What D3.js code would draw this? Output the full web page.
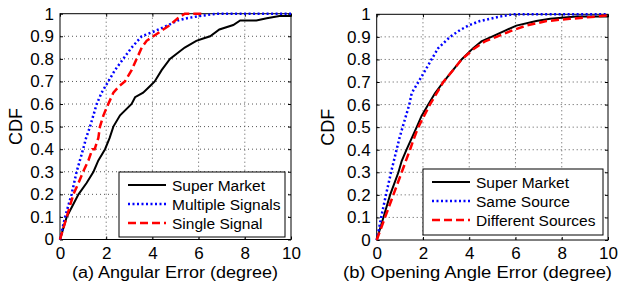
<!DOCTYPE html>
<html>
<head>
<meta charset="utf-8">
<script src="https://cdn.jsdelivr.net/npm/d3@7"></script>
<style>
  body { margin: 0; background: #fff; }
  svg { display: block; }
  text { font-family: "Liberation Sans", Arial, sans-serif; fill: #000; }
</style>
</head>
<body>
<div id="chart"></div>
<script>
// tick labels
const xTicks = [0, 2, 4, 6, 8, 10];
const yTicks = [0, 0.1, 0.2, 0.3, 0.4, 0.5, 0.6, 0.7, 0.8, 0.9, 1];

// (a) Angular Error
const angSuperX = [0, 0.29, 0.8, 1.15, 1.45, 1.66, 1.95, 2.15, 2.31, 2.6, 3.1, 3.25, 3.6, 3.9, 4.1, 4.4, 4.76, 5.4, 5.9, 6.2, 6.5, 6.9, 7.5, 7.8, 8.5, 8.95, 9.5, 10];
const angSuperY = [0, 0.1, 0.2, 0.25, 0.3, 0.35, 0.4, 0.45, 0.5, 0.55, 0.6, 0.63, 0.65, 0.68, 0.7, 0.75, 0.8, 0.85, 0.88, 0.89, 0.9, 0.93, 0.95, 0.97, 0.97, 0.98, 0.99, 0.99];
const angMultiX = [0, 0.22, 0.5, 0.72, 1.0, 1.13, 1.3, 1.59, 1.8, 2.09, 2.38, 2.74, 3.1, 3.54, 4.04, 4.7, 5.1, 5.5, 6.06, 6.8, 10];
const angMultiY = [0, 0.1, 0.2, 0.3, 0.4, 0.45, 0.5, 0.6, 0.65, 0.7, 0.75, 0.8, 0.85, 0.9, 0.92, 0.95, 0.97, 0.98, 0.99, 1, 1];
const angSingleX = [0, 0.29, 0.58, 0.8, 1.0, 1.23, 1.4, 1.5, 1.66, 1.73, 1.88, 2.09, 2.31, 2.57, 2.81, 3.1, 3.32, 3.54, 3.75, 4.04, 4.47, 4.76, 5.1, 5.4, 6.2];
const angSingleY = [0, 0.1, 0.2, 0.25, 0.3, 0.35, 0.4, 0.4, 0.45, 0.5, 0.55, 0.6, 0.65, 0.68, 0.7, 0.75, 0.8, 0.85, 0.88, 0.9, 0.93, 0.95, 0.98, 1, 1];

// (b) Opening Angle Error
const opSuperX = [0, 0.29, 0.58, 0.94, 1.08, 1.29, 1.51, 1.73, 1.94, 2.23, 2.52, 2.88, 3.28, 3.67, 4.17, 4.53, 4.96, 5.6, 6.04, 6.9, 7.5, 8.63, 10];
const opSuperY = [0, 0.1, 0.2, 0.3, 0.35, 0.4, 0.45, 0.5, 0.55, 0.6, 0.65, 0.7, 0.75, 0.8, 0.85, 0.88, 0.9, 0.93, 0.95, 0.97, 0.98, 0.99, 0.99];
const opSameX = [0, 0.1, 0.19, 0.4, 0.62, 0.86, 0.98, 1.12, 1.41, 1.51, 1.8, 2.09, 2.37, 2.66, 3.17, 3.6, 3.96, 4.46, 4.89, 5.32, 5.9, 10];
const opSameY = [0, 0.05, 0.1, 0.2, 0.3, 0.4, 0.45, 0.5, 0.6, 0.65, 0.7, 0.75, 0.8, 0.85, 0.9, 0.93, 0.95, 0.97, 0.98, 0.99, 1, 1];
const opDiffX = [0, 0.36, 0.72, 1.08, 1.44, 1.61, 1.8, 2.3, 2.88, 3.28, 3.67, 4.24, 4.68, 5.18, 5.9, 6.47, 7.34, 8.35, 9.5, 10];
const opDiffY = [0, 0.1, 0.2, 0.3, 0.4, 0.45, 0.5, 0.6, 0.7, 0.75, 0.8, 0.85, 0.88, 0.9, 0.93, 0.95, 0.97, 0.98, 0.99, 0.995];

const styles = {
  black: { color: "#000", width: 2, dash: null },
  blue: { color: "#0000ff", width: 2.5, dash: "2,2.5" },
  red: { color: "#ff0000", width: 2.5, dash: "8,4" }
};

const svg = d3.select("#chart").append("svg")
  .attr("width", 620)
  .attr("height", 286);

function zip(xs, ys) { return xs.map((x, i) => [x, ys[i]]); }

function drawPanel(opt) {
  const x = d3.scaleLinear().domain([0, 10]).range([opt.left, opt.right]);
  const y = d3.scaleLinear().domain([0, 1]).range([opt.bottom, opt.top]);
  const g = svg.append("g");

  // dotted grid
  g.selectAll(".gx").data(xTicks.slice(1, -1)).enter().append("line")
    .attr("x1", d => x(d)).attr("x2", d => x(d))
    .attr("y1", opt.top).attr("y2", opt.bottom)
    .attr("stroke", "#555").attr("stroke-width", 1).attr("stroke-dasharray", "1,3");
  g.selectAll(".gy").data(yTicks.slice(1, -1)).enter().append("line")
    .attr("y1", d => y(d)).attr("y2", d => y(d))
    .attr("x1", opt.left).attr("x2", opt.right)
    .attr("stroke", "#555").attr("stroke-width", 1).attr("stroke-dasharray", "1,3");

  // axes (inner ticks like matlab)
  const ax = g.append("g").attr("transform", `translate(0,${opt.bottom})`)
    .call(d3.axisBottom(x).tickValues(xTicks).tickSizeInner(-3).tickSizeOuter(0).tickPadding(7));
  const axT = g.append("g").attr("transform", `translate(0,${opt.top})`)
    .call(d3.axisTop(x).tickValues(xTicks).tickSizeInner(-3).tickSizeOuter(0).tickFormat(""));
  const ay = g.append("g").attr("transform", `translate(${opt.left},0)`)
    .call(d3.axisLeft(y).tickValues(yTicks).tickSizeInner(-3).tickSizeOuter(0).tickPadding(6).tickFormat(d3.format("")));
  const ayR = g.append("g").attr("transform", `translate(${opt.right},0)`)
    .call(d3.axisRight(y).tickValues(yTicks).tickSizeInner(-3).tickSizeOuter(0).tickFormat(""));
  [ax, axT, ay, ayR].forEach(a => {
    a.select(".domain").remove();
    a.selectAll("line").attr("stroke", "#000");
    a.selectAll("text").style("font-family", "Liberation Sans, Arial, sans-serif").style("font-size", "17px").attr("fill", "#000");
  });

  g.append("rect")
    .attr("x", opt.left).attr("y", opt.top)
    .attr("width", opt.right - opt.left).attr("height", opt.bottom - opt.top)
    .attr("fill", "none").attr("stroke", "#000").attr("stroke-width", 1);

  const line = d3.line().x(d => x(d[0])).y(d => y(d[1]));
  opt.series.forEach(s => {
    const st = styles[s.style];
    g.append("path")
      .datum(zip(s.xs, s.ys))
      .attr("d", line)
      .attr("fill", "none")
      .attr("stroke", st.color)
      .attr("stroke-width", st.width)
      .attr("stroke-dasharray", st.dash);
  });

  // axis labels
  g.append("text")
    .attr("x", opt.xlabelX).attr("y", 278)
    .attr("text-anchor", "middle").style("font-size", "16px")
    .attr("textLength", opt.xlabelW).attr("lengthAdjust", "spacingAndGlyphs")
    .text(opt.xlabel);
  g.append("text")
    .attr("transform", `translate(${opt.ylabelX},${(opt.top + opt.bottom) / 2}) rotate(-90)`)
    .attr("text-anchor", "middle").style("font-size", "18px")
    .text("CDF");

  // legend
  const lg = svg.append("g");
  lg.append("rect")
    .attr("x", opt.legend.x).attr("y", opt.legend.y)
    .attr("width", opt.legend.w).attr("height", opt.legend.h)
    .attr("fill", "#fff").attr("stroke", "#000").attr("stroke-width", 1);
  opt.series.forEach((s, i) => {
    const st = styles[s.style];
    const cy = opt.legend.y + 13 + i * 19;
    lg.append("line")
      .attr("x1", opt.legend.x + 9).attr("x2", opt.legend.x + 47)
      .attr("y1", cy).attr("y2", cy)
      .attr("stroke", st.color).attr("stroke-width", st.width)
      .attr("stroke-dasharray", st.dash);
    lg.append("text")
      .attr("x", opt.legend.x + 53).attr("y", cy + 5.5)
      .style("font-size", "15.5px")
      .text(s.name);
  });
}

drawPanel({
  left: 60, right: 291, top: 13.7, bottom: 239.5,
  xlabel: "(a) Angular Error (degree)", xlabelX: 175, xlabelW: 206, ylabelX: 22,
  legend: { x: 119, y: 172, w: 166, h: 65 },
  series: [
    { name: "Super Market", xs: angSuperX, ys: angSuperY, style: "black" },
    { name: "Multiple Signals", xs: angMultiX, ys: angMultiY, style: "blue" },
    { name: "Single Signal", xs: angSingleX, ys: angSingleY, style: "red" }
  ]
});

drawPanel({
  left: 376.7, right: 608, top: 14.3, bottom: 240,
  xlabel: "(b) Opening Angle Error (degree)", xlabelX: 477.5, xlabelW: 269, ylabelX: 334,
  legend: { x: 423, y: 169, w: 180, h: 66 },
  series: [
    { name: "Super Market", xs: opSuperX, ys: opSuperY, style: "black" },
    { name: "Same Source", xs: opSameX, ys: opSameY, style: "blue" },
    { name: "Different Sources", xs: opDiffX, ys: opDiffY, style: "red" }
  ]
});
</script>
</body>
</html>
